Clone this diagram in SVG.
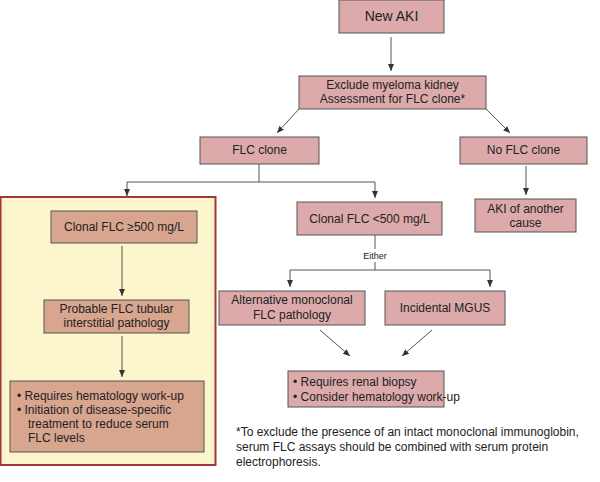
<svg xmlns="http://www.w3.org/2000/svg" width="600" height="482" viewBox="0 0 600 482">
<defs>
<marker id="ah" markerWidth="8" markerHeight="8" refX="7" refY="4" orient="auto" markerUnits="userSpaceOnUse"><path d="M0,1 L7,4 L0,7 Z" fill="#333"/></marker>
<style>
.b{fill:#dcaaaa;stroke:#555;stroke-width:1}
.t{fill:#d8a58f;stroke:#555;stroke-width:1}
text{font-family:"Liberation Sans",Arial,sans-serif;font-size:12px;fill:#222}
.c{text-anchor:middle}
.l{fill:none;stroke:#555;stroke-width:1}
</style>
</defs>
<rect x="0.5" y="197" width="215" height="268" fill="#fdf6cc" stroke="#a3353b" stroke-width="2"/>
<g id="connectors" class="l">
<line x1="391" y1="37" x2="391" y2="71" marker-end="url(#ah)"/>
<line x1="299" y1="109" x2="277" y2="133" marker-end="url(#ah)"/>
<line x1="486" y1="109" x2="510" y2="133" marker-end="url(#ah)"/>
<polyline points="259,164 259,182 127,182 127,196" marker-end="url(#ah)"/>
<polyline points="259,182 375,182 375,198" marker-end="url(#ah)"/>
<line x1="526" y1="166" x2="526" y2="195" marker-end="url(#ah)"/>
<line x1="122" y1="246" x2="122" y2="296" marker-end="url(#ah)"/>
<line x1="122" y1="336" x2="122" y2="377" marker-end="url(#ah)"/>
<line x1="375" y1="235" x2="375" y2="249"/>
<polyline points="375,262 375,270 290,270 290,287" marker-end="url(#ah)"/>
<polyline points="375,270 490,270 490,287" marker-end="url(#ah)"/>
<line x1="320" y1="330" x2="350" y2="356" marker-end="url(#ah)"/>
<line x1="432" y1="330" x2="402" y2="356" marker-end="url(#ah)"/>
</g>
<text x="375" y="259" class="c" style="font-size:9px">Either</text>
<g id="n1"><rect class="b" x="339" y="0" width="105" height="33"/><text x="391.5" y="21" class="c" style="font-size:14px">New AKI</text></g>
<g id="n2"><rect class="b" x="299" y="76" width="187" height="33"/><text x="392.5" y="89" class="c">Exclude myeloma kidney</text><text x="392.5" y="103" class="c">Assessment for FLC clone*</text></g>
<g id="n3"><rect class="b" x="200" y="137" width="119" height="27"/><text x="259.5" y="154" class="c">FLC clone</text></g>
<g id="n4"><rect class="b" x="460" y="137" width="127" height="27"/><text x="523.5" y="154" class="c">No FLC clone</text></g>
<g id="n5"><rect class="b" x="297" y="202" width="145" height="33"/><text x="369.5" y="223" class="c">Clonal FLC &lt;500 mg/L</text></g>
<g id="n6"><rect class="b" x="475" y="199" width="101" height="33"/><text x="525.5" y="213" class="c">AKI of another</text><text x="525.5" y="227" class="c">cause</text></g>
<g id="n7"><rect class="t" x="51" y="211" width="146" height="32"/><text x="124" y="231" class="c">Clonal FLC ≥500 mg/L</text></g>
<g id="n8"><rect class="t" x="44" y="300" width="145" height="33"/><text x="116.5" y="313" class="c">Probable FLC tubular</text><text x="116.5" y="327" class="c">interstitial pathology</text></g>
<g id="n9"><rect class="t" x="10" y="381" width="194" height="71"/><text x="17" y="400">•  Requires hematology work-up</text><text x="17" y="414">•  Initiation of disease-specific</text><text x="28" y="428">treatment to reduce serum</text><text x="28" y="442">FLC levels</text></g>
<g id="n10"><rect class="b" x="219" y="291" width="146" height="34"/><text x="292" y="304" class="c">Alternative monoclonal</text><text x="292" y="319" class="c">FLC pathology</text></g>
<g id="n11"><rect class="b" x="385" y="291" width="120" height="34"/><text x="445" y="312" class="c">Incidental MGUS</text></g>
<g id="n12"><rect class="b" x="288" y="371" width="156" height="36"/><text x="293" y="386">•  Requires renal biopsy</text><text x="293" y="401">•  Consider hematology work-up</text></g>
<g id="note"><text x="236" y="436">*To exclude the presence of an intact monoclonal immunoglobin,</text><text x="236" y="451">serum FLC assays should be combined with serum protein</text><text x="236" y="466">electrophoresis.</text></g>
</svg>
